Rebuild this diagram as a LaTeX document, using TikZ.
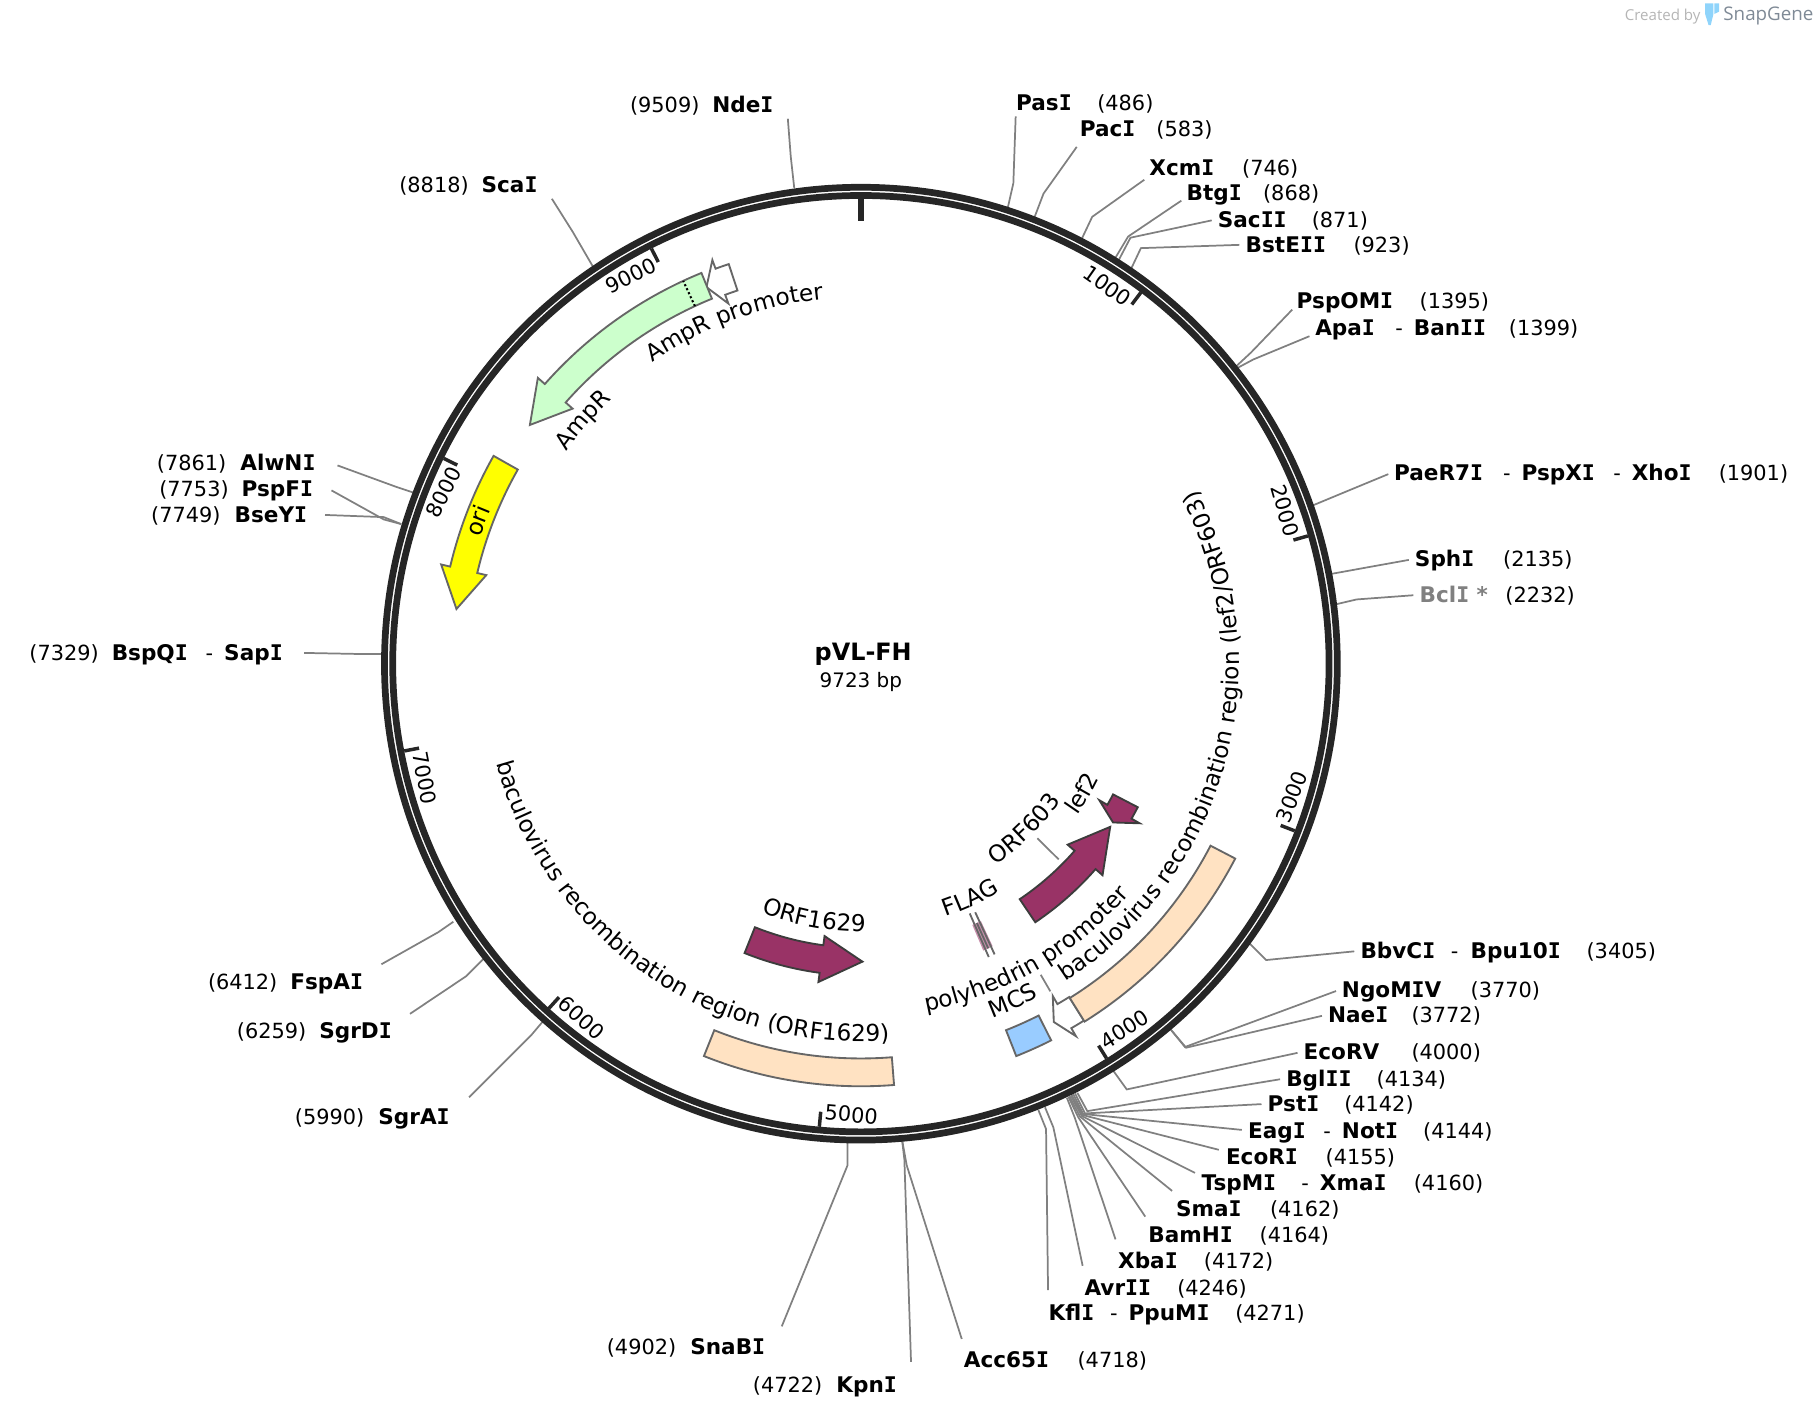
\documentclass[tikz,border=0pt]{standalone}
\usepackage{fontspec}
\setmainfont{DejaVu Sans}
\newfontfamily\logofont{Open Sans}
\newfontfamily\slabfont{DejaVu Sans Mono}
\usetikzlibrary{decorations.text}
\newcommand{\enzfont}{\bfseries\fontsize{9.3}{11}\selectfont}
\newcommand{\posfont}{\fontsize{9}{11}\selectfont}
\newcommand{\featfont}{\fontsize{10}{12}\selectfont}
% capital I with bars, as in the enzyme names
\newcommand{\vi}{{\slabfont I}}
\definecolor{ringcol}{HTML}{262626}
\definecolor{leadcol}{HTML}{808080}
\definecolor{edgecol}{HTML}{666666}
\definecolor{orfcol}{HTML}{993366}
\definecolor{bandcol}{HTML}{FFE2C2}
\definecolor{ampcol}{HTML}{CCFFCC}
\definecolor{oricol}{HTML}{FFFF00}
\definecolor{mcscol}{HTML}{99CCFF}
\definecolor{madecol}{HTML}{B5B5B5}
\definecolor{brandcol}{HTML}{7F8A96}
\definecolor{iconcol}{HTML}{8FD4FB}
\tikzset{
  ringline/.style={draw=ringcol,line width=2.9pt},
  ticks/.style={draw=ringcol,line width=1.5pt},
  enz/.style={font=\enzfont,anchor=base west,inner xsep=#1,inner ysep=2.5pt,text height=7pt,text depth=0pt,xshift=-#1},
  enz/.default=0pt,
  sitepos/.style={font=\posfont,anchor=base west,inner sep=0pt,xshift=-0.5pt},
  ticklabel/.style={font=\posfont,inner sep=0pt},
  leader/.style={draw=leadcol,line width=0.75pt},
  feature/.style={draw=edgecol,line width=0.8pt,line join=miter},
  orf/.style={draw=ringcol!90,fill=orfcol,line width=0.8pt,line join=miter},
  curved/.style={decorate,decoration={text along path,text align=center,text={|\featfont|#1}}}
}
% shaft and head of a feature, radius is the middle of the band
\newcommand{\featarrow}[5][feature]{
  \draw[#1] ({#2}:{#5+12}) arc[start angle=#2,end angle=#3,radius=#5+12] -- ({#3}:{#5+20})
    -- ({#4}:{#5}) -- ({#3}:{#5-20}) -- ({#3}:{#5-12}) arc[start angle=#3,end angle=#2,radius=#5-12] -- cycle;
}
\newcommand{\featband}[4][feature]{
  \draw[#1] ({#2}:{#4+12}) arc[start angle=#2,end angle=#3,radius=#4+12] -- ({#3}:{#4-12})
    arc[start angle=#3,end angle=#2,radius=#4-12] -- cycle;
}
\begin{document}
\begin{tikzpicture}[x=0.5pt,y=0.5pt]
  \useasboundingbox (0,0) rectangle (1568,-1223);

  % enzyme names, left of the circle the leader stops further off
  \foreach \nm/\x/\y/\txt in {
    ndei/614/90/Nde\vi, scai/415/159/Sca\vi, alwni/207/399/AlwN\vi, pspfi/208/421/PspF\vi,
    bseyi/202/444/BseY\vi, sapi/193/563/Sap\vi, fspai/250/846/FspA\vi,
    sgrdi/275/889/SgrD\vi, sgrai/326/963/SgrA\vi, snabi/595/1161/SnaB\vi, kpni/721/1194/Kpn\vi}
    \node[enz=6pt] (\nm) at (\x,-\y-7) {\txt};
  \foreach \nm/\x/\y/\txt in {
    bspqi/96/563/BspQ\vi, acc65i/831/1172/Acc65\vi, kfli/904/1132/Kfl\vi, ppumi/973/1132/PpuM\vi,
    avrii/935/1110/Avr\vi\vi, xbai/964/1087/Xba\vi, bamhi/990/1065/BamH\vi, smai/1014/1042/Sma\vi,
    tspmi/1036/1020/TspM\vi, xmai/1138/1020/Xma\vi, ecori/1057/997/EcoR\vi, eagi/1076/975/Eag\vi,
    noti/1157/975/Not\vi, psti/1093/952/Pst\vi, bglii/1109/930/Bgl\vi\vi, ecorv/1124/907/EcoRV,
    naei/1145/875/Nae\vi, ngomiv/1157/853/NgoM\vi V, bbvci/1173/820/BbvC\vi, bpuioi/1268/820/Bpu10\vi,
    sphi/1220/482/Sph\vi, paer/1202/407/PaeR7\vi, pspxi/1312/407/PspX\vi, xhoi/1407/407/Xho\vi,
    apai/1134/282/Apa\vi, banii/1219/282/Ban\vi\vi, pspomi/1118/259/PspOM\vi, bsteii/1074/211/BstE\vi\vi,
    sacii/1050/189/Sac\vi\vi, btgi/1023/166/Btg\vi, xcmi/991/144/Xcm\vi, paci/931/111/Pac\vi, pasi/876/88/Pas\vi}
    \node[enz] (\nm) at (\x,-\y-7) {\txt};
  \node[enz,text=leadcol] (bcli) at (1224,-520) {Bcl\vi\ *};

  % positions
  \foreach \x/\y/\txt in {
    544/90/9509, 345/159/8818, 136/399/7861, 138/421/7753, 131/444/7749, 26/563/7329,
    180/846/6412, 205/889/6259, 255/963/5990, 524/1161/4902, 650/1194/4722, 930/1172/4718,
    1066/1132/4271, 1016/1110/4246, 1039/1087/4172, 1087/1065/4164, 1096/1042/4162,
    1220/1020/4160, 1144/997/4155, 1228/975/4144, 1160/952/4142, 1188/930/4134, 1218/907/4000,
    1218/875/3772, 1269/853/3770, 1369/820/3405, 1299/513/2232, 1297/482/2135, 1483/407/1901,
    1302/282/1399, 1225/259/1395, 1168/211/923, 1132/189/871, 1090/166/868, 1072/144/746,
    998/111/583, 947/88/486}
    \node[sitepos] (pos\txt) at (\x,-\y-7) {(\txt)};

  % dashes between names on one line
  \foreach \x/\y [count=\i] in {178/563, 958/1132, 1123/1020, 1142/975, 1252/820, 1297/407, 1392/407, 1204/282}
    \node[sitepos] (dash\i) at (\x,-\y-7) {-};

  % leaders: ring point, elbow, label
  \foreach \nm/\ax/\ay/\bx/\by/\anc/\sh in {
    ndei/685/162/682/135/south east/0pt, scai/512/231/494/200/south east/0pt,
    alwni/357/425/342/420/east/3.5pt, pspfi/346/452/331/448/east/2pt,
    bseyi/346/452/331/446/east/1.5pt, sapi/330/564/308/564/east/3pt,
    fspai/391/795/378/804/north east/2pt, sgrdi/417/827/402/842/north east/2pt,
    sgrai/469/880/458/893/north east/3pt, snabi/731/983/731/1005/north east/2.5pt,
    kpni/778/983/780/1000/north east/3.5pt, acc65i/778/983/782/1005/north west/2.5pt,
    kfli/895.6/957.4/902.2/973.8/north west/3.5pt, avrii/901.3/955/908.5/972.3/north west/3pt,
    xbai/920.2/946.9/927.2/964.6/north west/3pt, bamhi/921.5/946/930/963.7/north west/2pt,
    smai/922.3/945.5/931.5/963/north west/2pt, tspmi/923.5/945/933/962.5/170/3pt,
    ecori/924.3/944.4/933.8/961.7/173/3pt, eagi/925.6/943.6/934.3/960.8/west/2.5pt,
    psti/927.2/943/935.8/960.3/west/2.5pt, bglii/929.2/942.5/937.8/958.3/west/2.5pt,
    ecorv/960.2/923.5/971.8/939.6/west/2.5pt, naei/1010.6/889/1023/903.6/west/2.5pt,
    ngomiv/1009/887/1022/903/west/2.5pt, bbvci/1076/812/1092/828/west/2.5pt,
    bcli/1153/521/1170/517/west/2.5pt, sphi/1148/495/1180/489.2/west/2.5pt,
    paer/1132/436/1165/422.3/west/2.5pt, apai/1066/318/1081/310/193/2.5pt,
    pspomi/1065/317/1079/304/186/2.5pt, bsteii/975/233/984/214/west/2.5pt,
    sacii/964/226/975/205/west/2.5pt, btgi/961/224/973/204/190/2.5pt,
    xcmi/933/206/942/187/196/2.5pt, paci/892/188/900/167/south west/2pt,
    pasi/869/180/874/158/south west/0pt}
  {
    \coordinate (\nm ring) at (\ax,-\ay);
    \coordinate (\nm bend) at (\bx,-\by);
    \draw[leader,shorten >=\sh] (\nm ring) -- (\nm bend) -- (\nm.\anc);
  }
  \coordinate (orfleadA) at (894.7,-723);
  \coordinate (orfleadB) at (913.1,-741.2);
  \draw[leader] (orfleadA) -- (orfleadB);
  \coordinate (polyleadA) at (897.6,-840.7);
  \coordinate (polyleadB) at (905.9,-855);
  \draw[leader] (polyleadA) -- (polyleadB);

  \begin{scope}[shift={(742.5,-572.4)}]
    % backbone
    \draw[ringline] (0,0) circle (410.9);
    \draw[ringline] (0,0) circle (403.8);
    \draw[ringcol,line width=2.6pt] (90:401) -- (90:381.5);

    \foreach \p/\r in {1000/-35, 2000/-74, 3000/69, 4000/32, 5000/-5, 6000/-42, 7000/-79, 8000/64, 9000/27} {
      \pgfmathsetmacro\ang{90-\p/9723*360}
      \draw[ticks] (\ang:401) -- (\ang:388);
      \node[ticklabel,rotate=\r] (tick\p) at ({\ang+3.9}:389) {\p};
    }

    % features
    \featarrow[feature,fill=white]{108.3}{110.2}{112.3}{351}
    \featarrow[feature,fill=ampcol]{112.2}{138.5}{144.2}{352}
    \draw[densely dotted,line width=0.9pt] (114.9:340) -- (114.9:364);
    \featarrow[feature,fill=oricol]{150.5}{166.7}{172.3}{352}
    \featarrow[feature,fill=white]{-58}{-60}{-61.7}{351}
    \featband[feature,fill=bandcol]{-27.5}{-58}{352}
    \featband[feature,fill=bandcol]{-85.5}{-111.8}{352.5}
    \featband[feature,fill=mcscol]{-63.2}{-68.4}{352}
    \featarrow[orf]{-111.9}{-97.6}{-89.7}{257}
    \featarrow[orf]{-56}{-41.2}{-33.2}{257}
    \featarrow[orf]{-27.4}{-29.8}{-32.2}{257}
    % FLAG is only a sliver
    \featband[draw=none,fill=orfcol,fill opacity=0.55]{-65}{-66.9}{257}
    \draw[draw=edgecol,line width=0.8pt] (-65.3:236) -- (-65.3:276) (-66.45:235) -- (-66.45:276) (-65.9:245) -- (-65.9:269);

    % names along the circle
    \path[curved={baculovirus recombination region (lef2/ORF603)}] (-74.9:326) arc[start angle=-74.9,end angle=45.1,radius=326];
    \path[curved={baculovirus recombination region (ORF1629)}] (174.8:326) arc[start angle=174.8,end angle=294.8,radius=326];
    \path[curved={AmpR promoter}] (150.3:316) arc[start angle=150.3,end angle=70.3,radius=316];
    \path[curved={AmpR}] (169:313) arc[start angle=169,end angle=108.6,radius=313];
    \path[curved={ori}] (180:346) arc[start angle=180,end angle=139,radius=346];
    \path[curved={ORF1629}] (230.6:231) arc[start angle=230.6,end angle=288.6,radius=231];
    \path[curved={ORF603}] (-80.3:209) arc[start angle=-80.3,end angle=-10.3,radius=209];
    \path[curved={lef2}] (-60.4:228) arc[start angle=-60.4,end angle=-0.4,radius=228];
    \path[curved={FLAG}] (-95:230) arc[start angle=-95,end angle=-35,radius=230];
    \path[curved={polyhedrin promoter}] (-100:305) arc[start angle=-100,end angle=-20,radius=305];
    \path[curved={MCS}] (-95.75:326) arc[start angle=-95.75,end angle=-35.75,radius=326];

    \node[font=\bfseries\fontsize{10.3}{12}\selectfont,inner sep=0pt] (title) at (2,8) {pVL-FH};
    \node[font=\fontsize{8.6}{10}\selectfont,inner sep=0pt] (size) at (0,-16) {9723 bp};
  \end{scope}

  % maker's mark
  \node[font=\logofont\fontsize{6.5}{8}\selectfont,text=madecol,anchor=west,inner sep=0pt] (made) at (1401,-14) {Created by};
  \node[font=\logofont\fontsize{8.1}{10}\selectfont,text=brandcol,anchor=west,inner sep=0pt] (brand) at (1486,-14) {SnapGene};
  \fill[iconcol] (1470.6,-3) -- (1477.8,-3) -- (1477.8,-12) -- (1475.5,-21.6) -- (1473.6,-21.6) -- (1470.6,-12) -- cycle;
  \fill[iconcol] (1478.6,-3) -- (1482.7,-3) -- (1482.7,-10) -- (1478.6,-12) -- cycle;
\end{tikzpicture}
\end{document}
